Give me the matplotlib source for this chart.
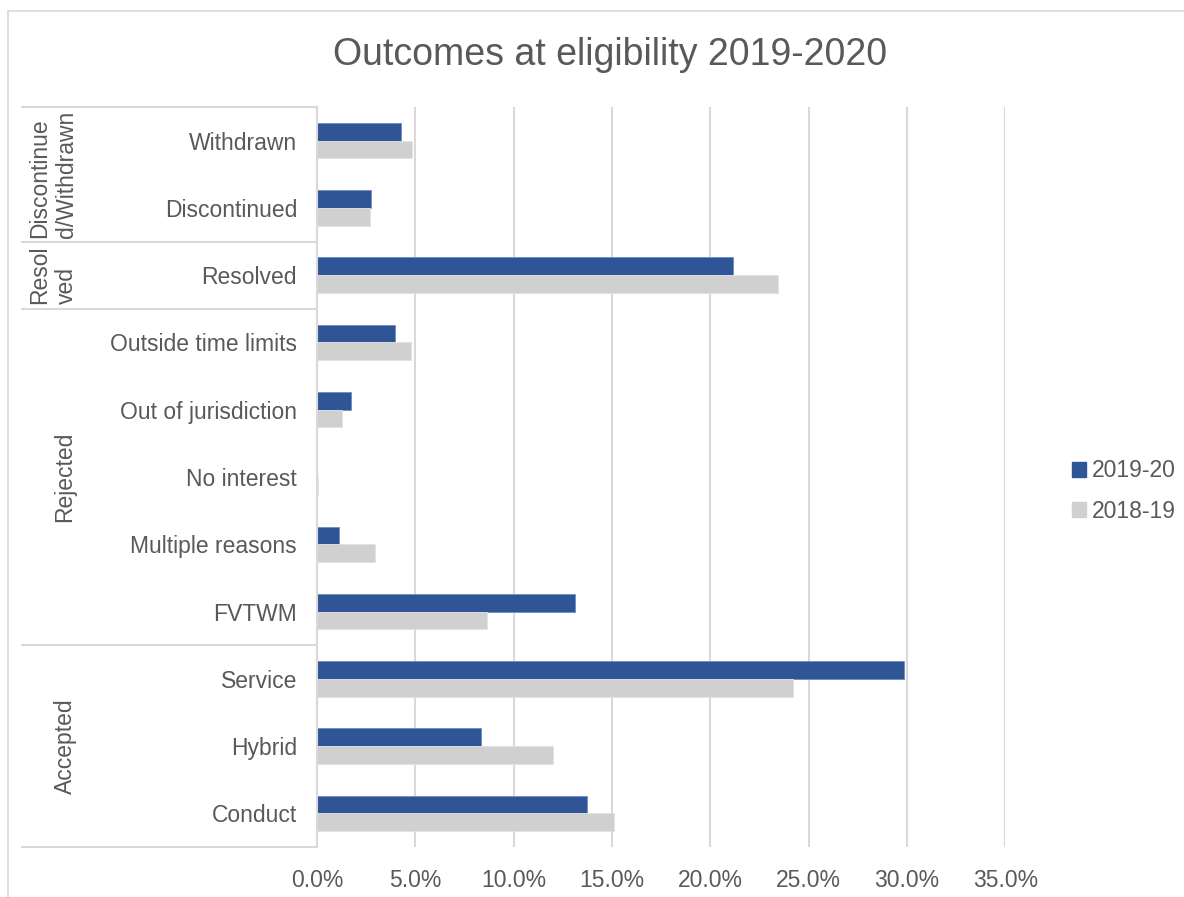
import numpy as np
import matplotlib.pyplot as plt
from matplotlib.patches import Patch, Rectangle
from matplotlib.ticker import PercentFormatter

plt.rcParams['font.family'] = ['Liberation Sans', 'DejaVu Sans']

# categories, top to bottom
categories = ["Withdrawn", "Discontinued", "Resolved", "Outside time limits",
              "Out of jurisdiction", "No interest", "Multiple reasons", "FVTWM",
              "Service", "Hybrid", "Conduct"]
v2019_20 = [4.26, 2.75, 21.16, 3.97, 1.70, 0.0, 1.09, 13.11, 29.84, 8.33, 13.73]
v2018_19 = [4.81, 2.67, 23.45, 4.76, 1.26, 0.05, 2.96, 8.65, 24.20, 11.98, 15.08]
series_names = ["2019-20", "2018-19"]
# groups: (label, first index, last index)
groups = [("Discontinue\nd/Withdrawn", 0, 1), ("Resol\nved", 2, 2),
          ("Rejected", 3, 7), ("Accepted", 8, 10)]

W, H = 1184, 897
txt = '#595959'
grid = '#d9d9d9'
blue = '#2f5597'
grey = '#d0d0d0'

fig = plt.figure(figsize=(W / 100, H / 100), dpi=100)
ax = fig.add_axes([317.2 / W, 1 - 847 / H, 688 / W, 740 / H])

y = np.arange(len(categories))
h = 0.263
ax.barh(y - h / 2, v2019_20, height=h, color=blue, edgecolor='#6f8cc4', linewidth=0.6, zorder=3)
ax.barh(y + h / 2, v2018_19, height=h, color=grey, edgecolor='#e2e2e2', linewidth=0.6, zorder=3)

ax.set_xlim(0, 35)
ax.set_ylim(len(categories) - 0.5, -0.5)
ax.set_xticks(np.arange(0, 36, 5))
ax.xaxis.set_major_formatter(PercentFormatter(decimals=1))
ax.set_yticks(y)
ax.set_yticklabels(categories)
ax.tick_params(axis='x', length=0, pad=16, labelsize=16.5, labelcolor=txt)
ax.tick_params(axis='y', length=0, pad=14.5, labelsize=16.5, labelcolor=txt)
ax.grid(axis='x', color=grid, linewidth=1.5, zorder=0)
for s in ['top', 'right', 'bottom']:
    ax.spines[s].set_visible(False)
ax.spines['left'].set_color(grid)
ax.spines['left'].set_linewidth(1.5)
ax.spines['left'].set_zorder(4)

# multi-level category table
tr = ax.get_yaxis_transform()
x0 = (22 - 317.2) / 688
bounds = [-0.5] + [g[2] + 0.5 for g in groups]
for b in bounds:
    ax.plot([x0, 0], [b, b], color=grid, linewidth=1.5, transform=tr, clip_on=False)
for label, a, b in groups:
    xc = (53 - 317.2) / 688 if '\n' in label else (65 - 317.2) / 688
    ax.text(xc, (a + b) / 2, label, rotation=90, ha='center', va='center',
            multialignment='left', fontsize=16.5, color=txt, transform=tr,
            linespacing=1.2)

fig.suptitle("Outcomes at eligibility 2019-2020", x=610 / W, y=1 - 55 / H,
             va='center', fontsize=27, color=txt)

handles = [Patch(color=blue), Patch(color=grey)]
fig.legend(handles, series_names, loc='center left',
           bbox_to_anchor=(1072 / W, 1 - 491 / H), frameon=False,
           borderaxespad=0, borderpad=0,
           fontsize=16.5, labelcolor=txt, handlelength=0.6, handleheight=0.6,
           handletextpad=0.25, labelspacing=0.75)

# outer chart border
fig.add_artist(Rectangle((8 / W, -0.1), 1.2, 1.1 - 11 / H, fill=False,
                         edgecolor=grid, linewidth=1.2, transform=fig.transFigure))

fig.savefig('out.png', dpi=100)
